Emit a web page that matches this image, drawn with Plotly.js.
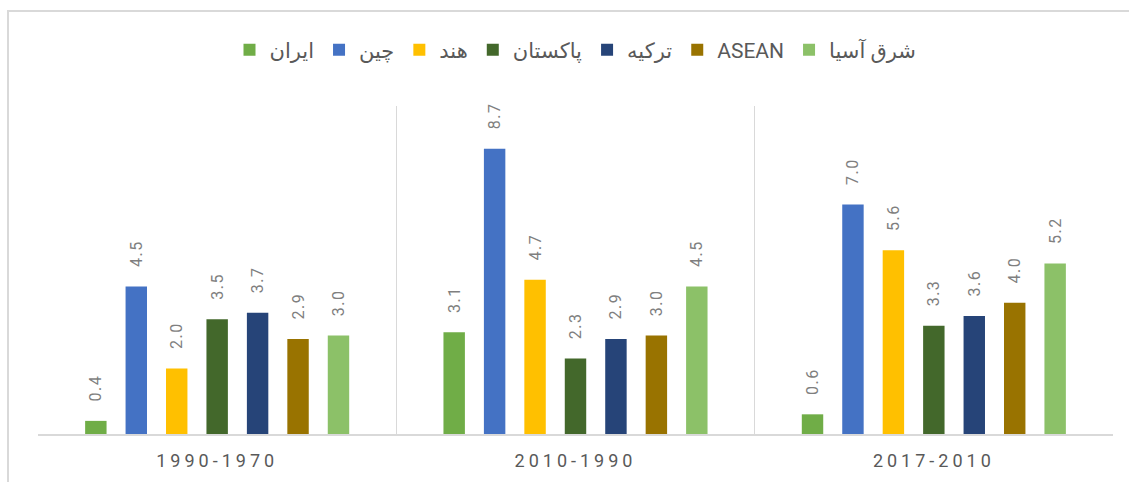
<!DOCTYPE html>
<html>
<head>
<meta charset="utf-8">
<script src="https://cdn.plot.ly/plotly-3.0.1.min.js"></script>
<style>
  html, body { margin: 0; padding: 0; background: #fff; }
  #wrap { position: relative; width: 1129px; height: 482px; overflow: hidden; }
  #chart { width: 1129px; height: 482px; }
  #frame { position: absolute; left: 7px; top: 10px; width: 1200px; height: 600px;
           border-left: 2px solid #D9D9D9; border-top: 2px solid #D9D9D9; pointer-events: none; }
  .xtick text { letter-spacing: 4px; }
  .bartext text, text.bartext { letter-spacing: 1.5px; }
</style>
</head>
<body>
<div id="wrap">
  <div id="chart"></div>
  <div id="frame"></div>
</div>
<script>
const periods = ["1990-1970", "2010-1990", "2017-2010"];
const seriesNames = ["ایران", "چین", "هند", "پاکستان", "ترکیه", "ASEAN", "شرق آسیا"];
const iran = [0.4, 3.1, 0.6];
const china = [4.5, 8.7, 7.0];
const india = [2.0, 4.7, 5.6];
const pakistan = [3.5, 2.3, 3.3];
const turkey = [3.7, 2.9, 3.6];
const asean = [2.9, 3.0, 4.0];
const eastAsia = [3.0, 4.5, 5.2];
const colors = ["#70AD47", "#4472C4", "#FFC000", "#43682B", "#264478", "#997300", "#8CC168"];

const values = [iran, china, india, pakistan, turkey, asean, eastAsia];
const font = "Roboto, 'DejaVu Sans', sans-serif";

const traces = values.map((v, i) => ({
  type: "bar",
  name: seriesNames[i],
  x: periods,
  y: v,
  marker: { color: colors[i], line: { width: 0 } },
  text: v.map(d => d.toFixed(1)),
  texttemplate: "\u00a0\u00a0\u00a0%{text}",
  textposition: "outside",
  textangle: -90,
  constraintext: "none",
  cliponaxis: false,
  textfont: { family: font, size: 16, color: "#7F7F7F" },
  hoverinfo: "skip"
}));

const layout = {
  width: 1129,
  height: 482,
  margin: { l: 38, r: 16, t: 106, b: 48 },
  paper_bgcolor: "rgba(0,0,0,0)",
  plot_bgcolor: "#fff",
  barmode: "group",
  bargap: 0.21,
  bargroupgap: 0.47,
  showlegend: true,
  legend: {
    orientation: "h",
    x: 0.5, xanchor: "center",
    y: 0.896, yref: "container", yanchor: "middle",
    font: { family: font, size: 21, color: "#595959" },
    itemwidth: 30,
    traceorder: "normal"
  },
  xaxis: {
    type: "category",
    tickson: "boundaries",
    showgrid: true,
    gridcolor: "#D9D9D9",
    gridwidth: 1,
    showline: true,
    linecolor: "#D9D9D9",
    linewidth: 1.5,
    ticks: "",
    ticklabelstandoff: 10,
    tickfont: { family: font, size: 18, color: "#595959" },
    zeroline: false
  },
  yaxis: {
    range: [0, 10],
    showgrid: false,
    showticklabels: false,
    zeroline: false,
    showline: false,
    ticks: ""
  },
  font: { family: font }
};

Plotly.newPlot("chart", traces, layout, { displayModeBar: false, staticPlot: true });
</script>
</body>
</html>
